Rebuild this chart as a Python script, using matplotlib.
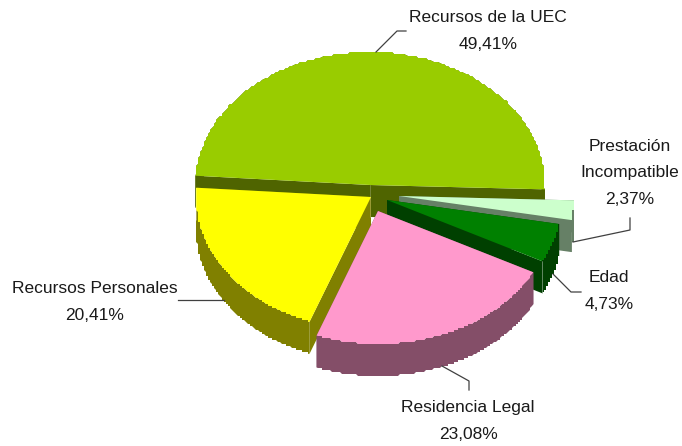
#!/usr/bin/env python3
import numpy as np
import matplotlib
matplotlib.use('Agg')
import matplotlib.pyplot as plt

# clockwise from the left edge of the big slice
labels = ['Recursos de la UEC', 'Prestación\nIncompatible', 'Edad', 'Residencia Legal', 'Recursos Personales']
values = [49.41, 2.37, 4.73, 23.08, 20.41]
value_text = ['49,41%', '2,37%', '4,73%', '23,08%', '20,41%']

top_colors = ['#99CC00', '#CCFFCC', '#008000', '#FF99CC', '#FFFF00']
side_colors = ['#4F6400', '#668066', '#004000', '#844E68', '#808000']
# how far each slice is pulled out of the pie, in pixels
offsets = [(0, -5), (29, 6), (17, 10), (8, 21), (1, 7)]
draw_order = [0, 1, 2, 4, 3]
# slices with a faint light edge on their wall
edge_lines = [2, 4]

CX, CY = 370, 190
RX, RY = 175, 133
DEPTH = 32
START = 176.0
STEP = 2.0


def arc(a0, a1, cx, cy):
    t = np.radians(np.linspace(a0, a1, 200))
    x = cx + RX * np.cos(t)
    y = cy - RY * np.sin(t)
    # the original has stair-stepped outlines
    xs = np.round(x / STEP) * STEP
    ys = np.round(y / STEP) * STEP
    xs[0], ys[0], xs[-1], ys[-1] = x[0], y[0], x[-1], y[-1]
    return xs, ys


fig = plt.figure(figsize=(6.82, 4.46), dpi=100)
ax = fig.add_axes([0, 0, 1, 1])
ax.set_xlim(0, 682)
ax.set_ylim(446, 0)
ax.axis('off')

angles = START - np.cumsum([0] + values) * 3.6

for i in draw_order:
    a0, a1 = angles[i], angles[i + 1]
    cx, cy = CX + offsets[i][0], CY + offsets[i][1]
    x, y = arc(a0, a1, cx, cy)
    # outer wall
    ax.fill(np.r_[x, x[::-1]], np.r_[y, y[::-1] + DEPTH], color=side_colors[i], lw=0)
    # cut faces
    for ex, ey in ((x[0], y[0]), (x[-1], y[-1])):
        ax.fill([cx, ex, ex, cx], [cy, ey, ey + DEPTH, cy + DEPTH], color=side_colors[i], lw=0)
    if i == 0:
        ax.plot([cx, cx], [cy, cy + DEPTH], color='white', lw=0.5, alpha=0.3)
    elif i in edge_lines:
        ax.plot([x[-1], x[-1]], [y[-1], y[-1] + DEPTH], color='white', lw=0.5, alpha=0.3)
    ax.fill(np.r_[cx, x], np.r_[cy, y], color=top_colors[i], lw=0)

leaders = [
    ([376, 397, 406], [52, 31, 31]),
    ([573, 630, 630], [242, 230, 218]),
    ([553, 571, 581], [274, 292, 292]),
    ([442, 469, 469], [366, 381, 390]),
    ([178, 224], [300, 300]),
]
for lx, ly in leaders:
    ax.plot(lx, ly, color='#404040', lw=0.9)

label_pos = [(488, 31), (630, 173), (609, 291), (468, 421), (95, 302)]
for lab, val, (tx, ty) in zip(labels, value_text, label_pos):
    ax.text(tx, ty, lab + '\n' + val, ha='center', va='center', family='Liberation Sans',
            fontsize=12.5, color='#1a1a1a', linespacing=1.95)

fig.savefig('out.png', dpi=100)
